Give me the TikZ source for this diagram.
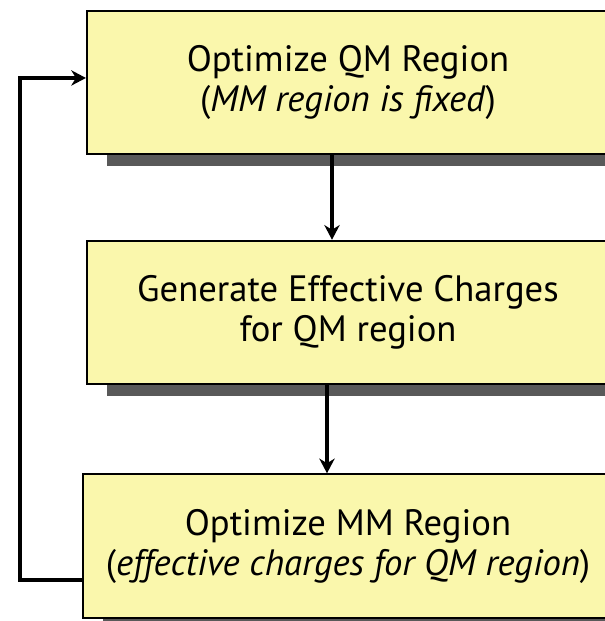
\documentclass[tikz,border=0pt]{standalone}
\usepackage{fontspec}
\setmainfont{PT Sans}
\usetikzlibrary{arrows.meta,shadows}
\definecolor{boxyellow}{RGB}{250,247,172}

\tikzset{
  stepbox/.style={draw=black, line width=1.6pt, fill=boxyellow,
    minimum width=391.5pt, minimum height=107.5pt, align=center,
    font=\fontsize{27.5}{30}\selectfont,
    drop shadow={shadow xshift=15pt, shadow yshift=-9pt, fill=black!65, opacity=1}},
  flow/.style={line width=2.4pt, -{Stealth[length=11pt, width=11.5pt, inset=3.5pt]}}
}

\begin{document}
\begin{tikzpicture}[x=0.75pt, y=-0.75pt]
  % Page
  \useasboundingbox (0, 0) rectangle (605, 621);

  % Steps
  \node[stepbox] (optqm) at (348, 82.5) {Optimize QM Region\\(\textit{MM region is fixed})};
  \node[stepbox] (charges) at (348, 312.5) {Generate Effective Charges\\for QM region};
  \node[stepbox, minimum width=397.5pt] (optmm) at (348, 546) {Optimize MM Region\\(\textit{effective charges for QM region})};

  % Arrows down
  \draw[flow] ([xshift=-12pt]optqm.south) -- ([xshift=-12pt]charges.north);
  \draw[flow] ([xshift=-15.75pt]charges.south) -- ([xshift=-15.75pt]optmm.north);

  % Loop back
  \draw[flow] ([yshift=-25.5pt]optmm.west) -- ++(-62, 0) |- ([yshift=3.4pt]optqm.west);
\end{tikzpicture}
\end{document}
